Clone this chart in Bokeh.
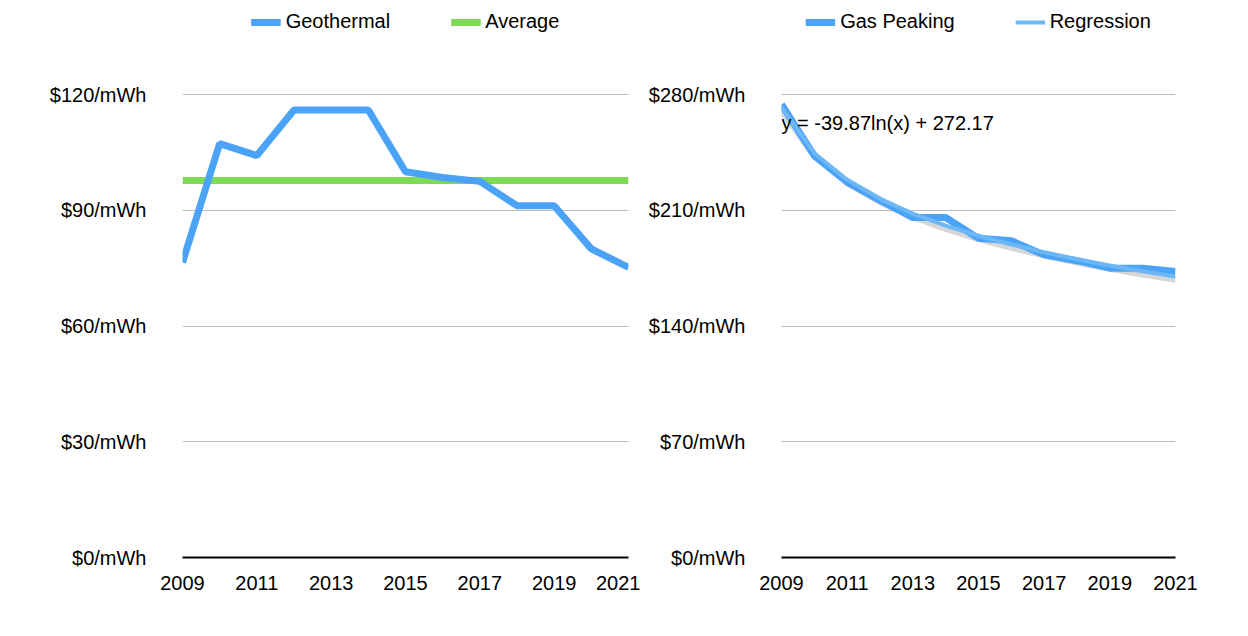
from bokeh.plotting import figure
from bokeh.layouts import row
from bokeh.models import Label, Legend, LegendItem, FixedTicker, CustomJSTickFormatter, Range1d
from bokeh.embed import file_html
from bokeh.resources import INLINE

years = list(range(2009, 2022))
geothermal = [76.5, 107.3, 104.2, 116, 116, 116, 100, 98.5, 97.5, 91.2, 91.2, 80, 75.2]
average = [97.7] * len(years)
gas_peaking = [274, 243, 227, 216, 205.6, 205.6, 193, 191.6, 183, 179.5, 175, 175, 173]
regression = [272.2, 244.5, 228.4, 216.9, 208.0, 200.7, 194.6, 189.3, 184.6, 180.4, 176.6, 173.1, 169.9]

FONT = "Liberation Sans"


def base_fig(width, left, right, ytop, ymax, step):
    p = figure(width=width, height=612, output_backend="svg", toolbar_location=None,
               x_range=Range1d(2009, 2021), y_range=Range1d(0, ytop),
               min_border_top=10, min_border_bottom=55, min_border_left=left,
               min_border_right=right, outline_line_color=None)
    p.xaxis.ticker = FixedTicker(ticks=list(range(2009, 2022, 2)))
    p.yaxis.ticker = FixedTicker(ticks=list(range(0, ymax + 1, step)))
    p.yaxis.formatter = CustomJSTickFormatter(code="return '$' + tick + '/mWh';")
    for ax in (p.xaxis, p.yaxis):
        ax.major_label_text_font = FONT
        ax.major_label_text_font_size = "20px"
        ax.major_label_text_color = "black"
        ax.major_tick_line_color = None
        ax.minor_tick_line_color = None
    p.yaxis.axis_line_color = None
    p.yaxis.major_label_standoff = 30
    p.xaxis.axis_line_color = "black"
    p.xaxis.axis_line_width = 2
    p.xaxis.major_label_standoff = 12
    p.xgrid.grid_line_color = None
    p.ygrid.grid_line_color = "#bbbbbb"
    return p


def add_legend(p, items):
    leg = Legend(items=items, orientation="horizontal", location="top_center",
                 label_text_font=FONT, label_text_font_size="20px", label_text_color="black",
                 border_line_color=None, background_fill_alpha=0,
                 glyph_width=30, spacing=60, margin=0, padding=2)
    p.add_layout(leg, "center")


p1 = base_fig(640, 182, 12, 141.8, 120, 30)
a = p1.line(years, average, line_color="#7ED957", line_width=7)
g = p1.line(years, geothermal, line_color="#4BA3F7", line_width=7)
add_legend(p1, [LegendItem(label="Geothermal", renderers=[g]), LegendItem(label="Average", renderers=[a])])

p2 = base_fig(575, 141, 40, 330.8, 280, 70)
p2.line(years, [v - 2 for v in regression], line_color="#999999", line_width=6, line_alpha=0.4)
gp = p2.line(years, gas_peaking, line_color="#4BA3F7", line_width=7)
rg = p2.line(years, regression, line_color="#6CB8F7", line_width=4)
add_legend(p2, [LegendItem(label="Gas Peaking", renderers=[gp]), LegendItem(label="Regression", renderers=[rg])])
p2.add_layout(Label(x=2009, y=256, text="y = -39.87ln(x) + 272.17", text_font=FONT,
                    text_font_size="20px", text_color="black"))

layout = row(p1, p2)
open("out.html", "w").write(file_html(layout, INLINE))
